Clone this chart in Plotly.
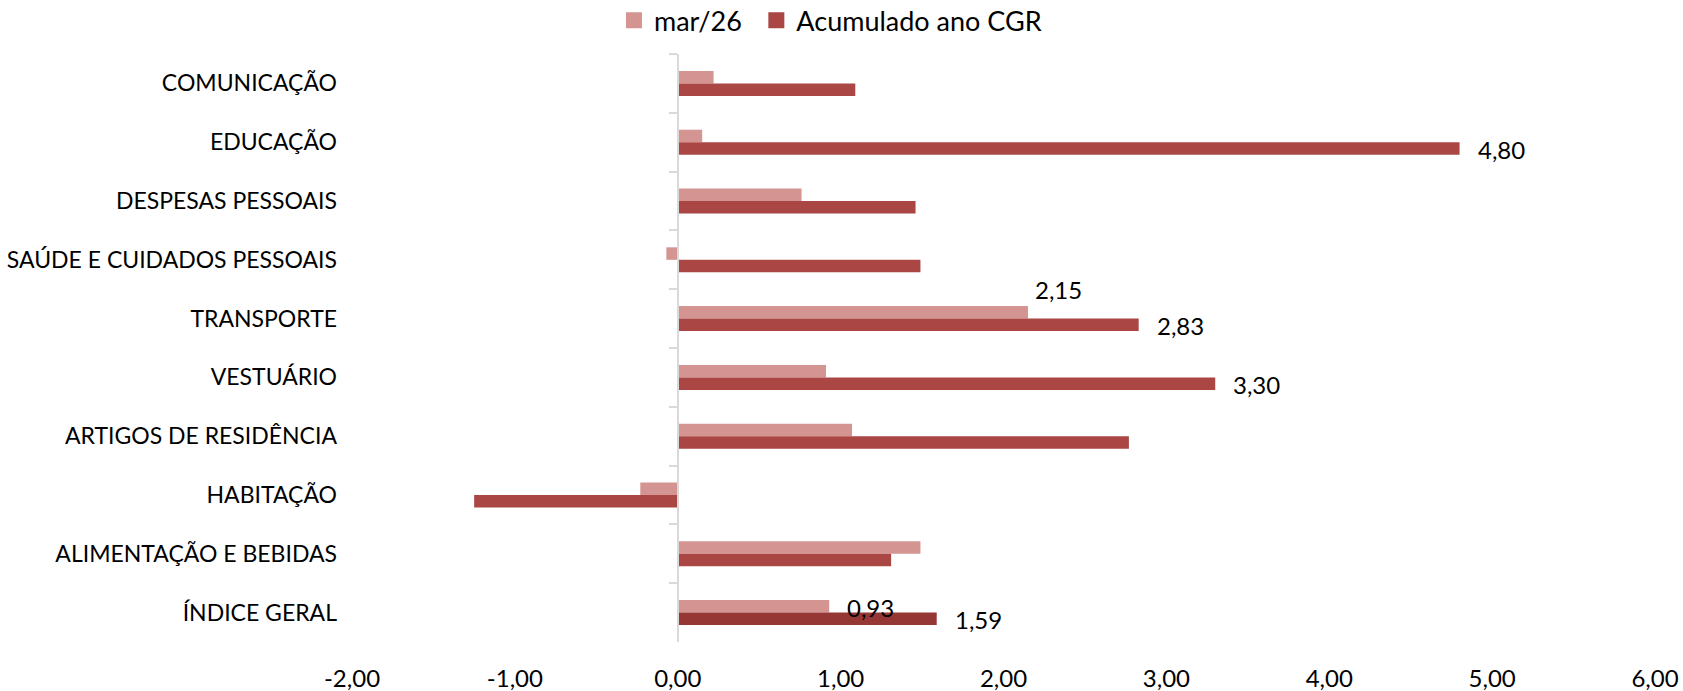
import plotly.graph_objects as go

categories = ["COMUNICAÇÃO", "EDUCAÇÃO", "DESPESAS PESSOAIS", "SAÚDE E CUIDADOS PESSOAIS",
              "TRANSPORTE", "VESTUÁRIO", "ARTIGOS DE RESIDÊNCIA", "HABITAÇÃO",
              "ALIMENTAÇÃO E BEBIDAS", "ÍNDICE GERAL"]
mar26 = [0.22, 0.15, 0.76, -0.07, 2.15, 0.91, 1.07, -0.23, 1.49, 0.93]
acum = [1.09, 4.80, 1.46, 1.49, 2.83, 3.30, 2.77, -1.25, 1.31, 1.59]
tick_vals = [-2, -1, 0, 1, 2, 3, 4, 5, 6]
tick_text = ["-2,00", "-1,00", "0,00", "1,00", "2,00", "3,00", "4,00", "5,00", "6,00"]
series_names = ["mar/26", "Acumulado ano CGR"]

# which bars carry a value label
labeled_mar = ["TRANSPORTE", "ÍNDICE GERAL"]
labeled_acum = ["EDUCAÇÃO", "TRANSPORTE", "VESTUÁRIO", "ÍNDICE GERAL"]

LIGHT = "#D39492"
DARK = "#AA4744"
DARKER = "#953735"
FONT = "Lato"
TXT = "#000000"

acum_colors = [DARKER if c == "ÍNDICE GERAL" else DARK for c in categories]

fig = go.Figure()
fig.add_trace(go.Bar(name=series_names[0], y=categories, x=mar26, orientation="h",
                     marker=dict(color=LIGHT, line=dict(width=0)), showlegend=False))
fig.add_trace(go.Bar(name=series_names[1], y=categories, x=acum, orientation="h",
                     marker=dict(color=acum_colors, line=dict(width=0)), showlegend=False))
# legend entries with larger square keys
fig.add_trace(go.Scatter(x=[None], y=[None], mode="markers", name=series_names[0],
                         marker=dict(symbol="square", size=16, color=LIGHT), legend="legend"))
fig.add_trace(go.Scatter(x=[None], y=[None], mode="markers", name=series_names[1],
                         marker=dict(symbol="square", size=16, color=DARK), legend="legend2"))
# helper trace for the axis line drawn at x = 0
fig.add_trace(go.Scatter(x=[0] * len(categories), y=categories, yaxis="y2", mode="markers",
                         marker=dict(opacity=0), showlegend=False, hoverinfo="skip"))

def fmt(v):
    return f"{v:.2f}".replace(".", ",")

annotations = []
for c, v in zip(categories, mar26):
    if c in labeled_mar:
        ys = 29 if c == "TRANSPORTE" else 5
        xs = 5 if c == "TRANSPORTE" else 16
        annotations.append(dict(x=v, y=c, xref="x", yref="y", text=fmt(v), showarrow=False,
                                xanchor="left", yanchor="middle", xshift=xs, yshift=ys,
                                font=dict(family=FONT, size=24, color=TXT)))
for c, v in zip(categories, acum):
    if c in labeled_acum:
        annotations.append(dict(x=v, y=c, xref="x", yref="y", text=fmt(v), showarrow=False,
                                xanchor="left", yanchor="middle", xshift=16, yshift=-7,
                                font=dict(family=FONT, size=24, color=TXT)))

leg_common = dict(orientation="h", xref="container", yref="container", y=0.97,
                  xanchor="left", yanchor="middle",
                  font=dict(family=FONT, size=27, color=TXT), bgcolor="rgba(0,0,0,0)")

fig.update_layout(
    width=1683, height=691,
    margin=dict(l=352, r=28, t=54, b=49),
    paper_bgcolor="white", plot_bgcolor="white",
    barmode="group", bargap=0.575, bargroupgap=0,
    font=dict(family=FONT, size=23, color=TXT),
    showlegend=True,
    legend=dict(x=0.3648, **leg_common),
    legend2=dict(x=0.4494, **leg_common),
    xaxis=dict(range=[-2, 6], tickvals=tick_vals, ticktext=tick_text, showgrid=False,
               zeroline=False, showline=False, ticks="", ticklabelstandoff=20,
               automargin=False,
               tickfont=dict(family=FONT, size=24, color=TXT), fixedrange=True),
    yaxis=dict(type="category", categoryorder="array", categoryarray=categories,
               range=[len(categories) - 0.5, -0.5], showgrid=False, zeroline=False,
               showline=False, ticks="", ticklabelstandoff=14, automargin=False,
               tickfont=dict(family=FONT, size=23, color=TXT)),
    yaxis2=dict(type="category", categoryorder="array", categoryarray=categories,
                range=[len(categories) - 0.5, -0.5], overlaying="y", anchor="free",
                position=0.25, side="left", showline=True, linecolor="#D9D9D9", linewidth=2,
                ticks="outside", ticklen=8, tickwidth=2, tickcolor="#D9D9D9", automargin=False,
                tickson="boundaries", showticklabels=False, showgrid=False, zeroline=False),
    annotations=annotations,
)

fig.write_html("out.html", config={"displayModeBar": False},
               post_script="document.body.style.margin='0';document.body.style.padding='0';")
